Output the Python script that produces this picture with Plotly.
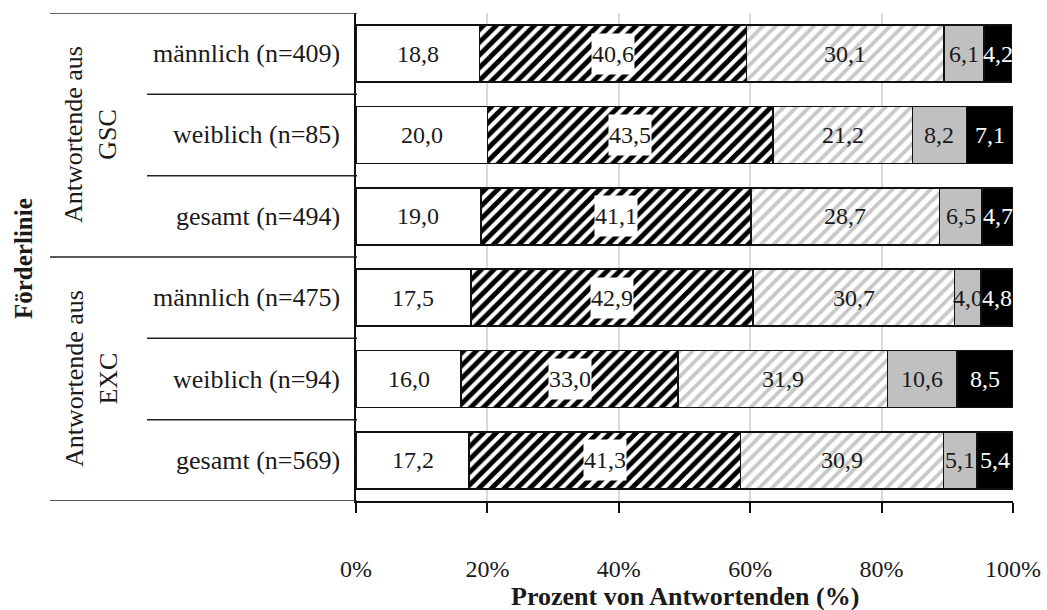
import plotly.graph_objects as go

# Row labels (top to bottom) and their groups
rows = [
    "männlich (n=409)", "weiblich (n=85)", "gesamt (n=494)",
    "männlich (n=475)", "weiblich (n=94)", "gesamt (n=569)",
]
groups = ["Antwortende aus<br>GSC", "Antwortende aus<br>EXC"]
group_centers = [rows[1], rows[4]]

# Shares per answer category (percent), one list per stacked segment
seg1 = [18.8, 20.0, 19.0, 17.5, 16.0, 17.2]
seg2 = [40.6, 43.5, 41.1, 42.9, 33.0, 41.3]
seg3 = [30.1, 21.2, 28.7, 30.7, 31.9, 30.9]
seg4 = [6.1, 8.2, 6.5, 4.0, 10.6, 5.1]
seg5 = [4.2, 7.1, 4.7, 4.8, 8.5, 5.4]

x_ticks = [0, 20, 40, 60, 80, 100]
x_ticktext = ["0%", "20%", "40%", "60%", "80%", "100%"]

W, H = 1047, 610
FONT = "Liberation Serif"
TXT = "#1a1a1a"
FS = 24

def px_x(p):
    return p / W

def px_y(p):
    return (H - p) / H

segments = [
    dict(vals=seg1, color="white", pattern=None, text=TXT, box=False),
    dict(vals=seg2, color="white",
         pattern=dict(shape="/", fgcolor="black", bgcolor="white",
                      size=9, solidity=0.55, fillmode="replace"),
         text=TXT, box=True),
    dict(vals=seg3, color="white",
         pattern=dict(shape="/", fgcolor="#c8c8c8", bgcolor="white",
                      size=9, solidity=0.42, fillmode="replace"),
         text=TXT, box=False),
    dict(vals=seg4, color="#c0c0c0", pattern=None, text=TXT, box=False),
    dict(vals=seg5, color="black", pattern=None, text="white", box=False),
]

fig = go.Figure()
for s in segments:
    marker = dict(color=s["color"], line=dict(color="#111111", width=1.5))
    if s["pattern"]:
        marker["pattern"] = s["pattern"]
    fig.add_trace(go.Bar(
        y=rows, x=s["vals"], orientation="h", marker=marker,
        width=0.7, hoverinfo="skip", showlegend=False,
    ))

annotations = []
# Value labels centred in each segment
base = [0.0] * len(rows)
for s in segments:
    for i, v in enumerate(s["vals"]):
        mid = base[i] + v / 2
        ann = dict(
            x=mid, y=rows[i], xref="x", yref="y",
            xanchor="center", yanchor="middle",
            text=f"{v:.1f}".replace(".", ","), showarrow=False,
            font=dict(family=FONT, size=FS, color=s["text"]),
        )
        if s["box"]:
            ann.update(bgcolor="white", borderpad=0, height=40)
        annotations.append(ann)
        base[i] += v

# Row labels
for r in rows:
    annotations.append(dict(
        x=px_x(342), y=r, xref="paper", yref="y",
        xanchor="right", yanchor="middle",
        text=r, showarrow=False,
        font=dict(family=FONT, size=26, color=TXT),
    ))

# Group labels
for g, c in zip(groups, group_centers):
    annotations.append(dict(
        x=px_x(91), y=c, xref="paper", yref="y",
        xanchor="center", yanchor="middle",
        text=g, textangle=-90, showarrow=False,
        font=dict(family=FONT, size=26, color=TXT),
    ))

# Axis titles
annotations.append(dict(
    x=px_x(23), y=px_y(259), xref="paper", yref="paper",
    xanchor="center", yanchor="middle",
    text="<b>Förderlinie</b>", textangle=-90, showarrow=False,
    font=dict(family=FONT, size=25, color=TXT),
))
annotations.append(dict(
    x=0.5, y=px_y(596), xref="x domain", yref="paper",
    xanchor="center", yanchor="middle",
    text="<b>Prozent von Antwortenden (%)</b>", showarrow=False,
    font=dict(family=FONT, size=26, color=TXT),
))

# Table lines in the label area
line_col = "#222222"
shapes = [
    dict(type="line", xref="paper", yref="y", x0=px_x(50), x1=px_x(357),
         y0=-0.5, y1=-0.5, line=dict(color="#333333", width=1.5)),
    dict(type="line", xref="paper", yref="y", x0=px_x(50), x1=px_x(357),
         y0=2.5, y1=2.5, line=dict(color=line_col, width=1.5)),
    dict(type="line", xref="paper", yref="y", x0=px_x(50), x1=px_x(357),
         y0=5.5, y1=5.5, line=dict(color=line_col, width=1.5)),
]
for yv in [0.5, 1.5, 3.5, 4.5]:
    shapes.append(dict(type="line", xref="paper", yref="y",
                       x0=px_x(147), x1=px_x(357), y0=yv, y1=yv,
                       line=dict(color=line_col, width=1.5)))

fig.update_layout(
    width=W, height=H, autosize=False,
    margin=dict(l=0, r=0, t=0, b=0, pad=0, autoexpand=False),
    paper_bgcolor="white", plot_bgcolor="white",
    barmode="stack", bargap=0.3,
    annotations=annotations, shapes=shapes,
    xaxis=dict(
        domain=[px_x(356), px_x(1013)], range=[0, 100],
        tickvals=x_ticks, ticktext=x_ticktext,
        ticks="outside", ticklen=10, tickcolor="#111111", tickwidth=1.5,
        showline=True, linecolor="#111111", linewidth=1.5,
        showgrid=True, gridcolor="#d9d9d9", gridwidth=1.5,
        zeroline=False, ticklabelstandoff=35, automargin=False,
        tickfont=dict(family=FONT, size=FS, color=TXT),
        fixedrange=True,
    ),
    yaxis=dict(
        domain=[px_y(501), px_y(13)],
        categoryorder="array", categoryarray=rows,
        autorange=False, range=[5.5, -0.5],
        showticklabels=False, ticks="", automargin=False,
        showline=True, linecolor="#111111", linewidth=1.5,
        showgrid=False, zeroline=False, fixedrange=True,
    ),
)

fig.write_html("out.html")
